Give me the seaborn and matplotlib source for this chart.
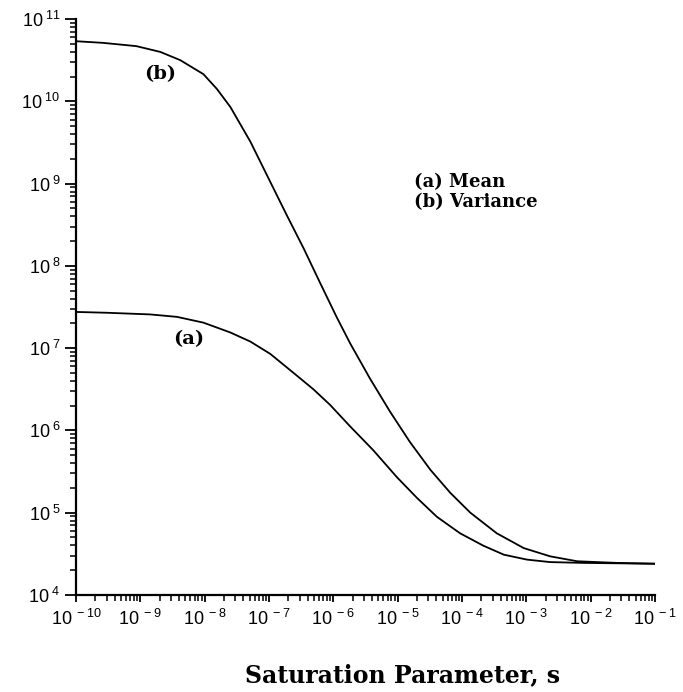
import numpy as np
import pandas as pd
import matplotlib
matplotlib.use("Agg")
import matplotlib.pyplot as plt
import seaborn as sns
from matplotlib.ticker import LogLocator, FixedLocator, FixedFormatter, NullFormatter

# ---- data (log10 values) ----
b_log_s = [-10.0, -9.58, -9.06, -8.69, -8.38, -8.02, -7.81, -7.60, -7.29, -6.98, -6.72,
           -6.46, -6.21, -5.95, -5.74, -5.43, -5.12, -4.81, -4.49, -4.18, -3.87, -3.46,
           -3.04, -2.63, -2.21, -1.59, -1.0]
b_log_y = [10.73, 10.71, 10.67, 10.60, 10.50, 10.33, 10.15, 9.93, 9.51, 9.02, 8.61,
           8.21, 7.80, 7.38, 7.06, 6.63, 6.23, 5.86, 5.52, 5.24, 5.00, 4.75,
           4.57, 4.47, 4.41, 4.39, 4.38]
a_log_s = [-10.0, -9.52, -8.85, -8.43, -8.02, -7.60, -7.29, -6.98, -6.62, -6.31, -6.05,
           -5.74, -5.38, -5.01, -4.70, -4.39, -4.03, -3.67, -3.35, -2.99, -2.63, -2.11, -1.0]
a_log_y = [7.44, 7.43, 7.41, 7.38, 7.31, 7.19, 7.08, 6.93, 6.70, 6.50, 6.31,
           6.05, 5.76, 5.43, 5.18, 4.95, 4.75, 4.60, 4.49, 4.43, 4.40, 4.39, 4.38]
series_names = ["(a) Mean", "(b) Variance"]
x_exponents = list(range(-10, 0))
y_exponents = list(range(4, 12))

df = pd.concat([
    pd.DataFrame({"s": 10.0 ** np.array(a_log_s), "v": 10.0 ** np.array(a_log_y), "series": series_names[0]}),
    pd.DataFrame({"s": 10.0 ** np.array(b_log_s), "v": 10.0 ** np.array(b_log_y), "series": series_names[1]}),
])

sns.set_style("ticks")
plt.rcParams["font.family"] = ["Liberation Sans", "DejaVu Sans"]
plt.rcParams["mathtext.fontset"] = "custom"
plt.rcParams["mathtext.rm"] = "Liberation Sans"
plt.rcParams["mathtext.it"] = "Liberation Sans"
plt.rcParams["mathtext.bf"] = "Liberation Sans:bold"
plt.rcParams["text.color"] = "black"
plt.rcParams["axes.labelcolor"] = "black"
plt.rcParams["xtick.color"] = "black"
plt.rcParams["ytick.color"] = "black"
plt.rcParams["xtick.labelcolor"] = "black"
plt.rcParams["ytick.labelcolor"] = "black"

fig = plt.figure(figsize=(6.83, 6.92), dpi=100)
ax = fig.add_axes([76 / 683, 1 - 595 / 692, 579 / 683, 576 / 692])

sns.lineplot(data=df, x="s", y="v", hue="series", palette=["black", "black"],
             linewidth=1.3, legend=False, ax=ax, sort=False, estimator=None)

ax.set_xscale("log")
ax.set_yscale("log")
ax.set_xlim(1e-10, 1e-1)
ax.set_ylim(1e4, 1e11)

ax.xaxis.set_major_locator(FixedLocator([10.0 ** e for e in x_exponents]))
ax.xaxis.set_major_formatter(FixedFormatter([r"10$^{\ %d}$" % e for e in x_exponents]))
ax.xaxis.set_minor_locator(LogLocator(base=10, subs=np.arange(2, 10), numticks=20))
ax.xaxis.set_minor_formatter(NullFormatter())
ax.yaxis.set_major_locator(FixedLocator([10.0 ** e for e in y_exponents]))
ax.yaxis.set_major_formatter(FixedFormatter([r"10$^{\ %d}$" % e for e in y_exponents]))
ax.yaxis.set_minor_locator(LogLocator(base=10, subs=np.arange(2, 10), numticks=20))
ax.yaxis.set_minor_formatter(NullFormatter())

ax.tick_params(axis="both", which="both", color="black", labelcolor="black")
ax.tick_params(axis="both", which="major", labelsize=13, width=1.3)
ax.tick_params(axis="y", which="major", length=8, pad=3)
ax.tick_params(axis="y", which="minor", length=4.5, width=1.1)
ax.tick_params(axis="x", which="major", length=5, pad=5)
ax.tick_params(axis="x", which="minor", length=4, width=1.1)

for side in ["top", "right"]:
    ax.spines[side].set_visible(False)
for side in ["left", "bottom"]:
    ax.spines[side].set_linewidth(1.6)
    ax.spines[side].set_color("black")

ax.set_xlabel("Saturation Parameter, s", fontfamily="DejaVu Serif", fontweight="bold",
              fontsize=17, color="black")
ax.xaxis.set_label_coords((403 - 76) / 579, -(675 - 595) / 576)
ax.xaxis.label.set_va("center")
ax.set_ylabel("")

serif = dict(fontfamily="DejaVu Serif", fontweight="bold", color="black")
ax.text(1e-10 * 10 ** ((160 - 76) / 64.3), 10 ** (4 + (595 - 76) / 82), "(b)", ha="center", va="center", fontsize=14, **serif)
ax.text(1e-10 * 10 ** ((189 - 76) / 64.3), 10 ** (4 + (595 - 340) / 82), "(a)", ha="center", va="center", fontsize=14, **serif)
ax.text(1e-10 * 10 ** ((414 - 76) / 64.3), 10 ** (4 + (595 - 184) / 82), series_names[0], ha="left", va="center", fontsize=13, **serif)
ax.text(1e-10 * 10 ** ((414 - 76) / 64.3), 10 ** (4 + (595 - 203) / 82), series_names[1], ha="left", va="center", fontsize=13, **serif)

fig.savefig("out.png", dpi=100, facecolor="white")
